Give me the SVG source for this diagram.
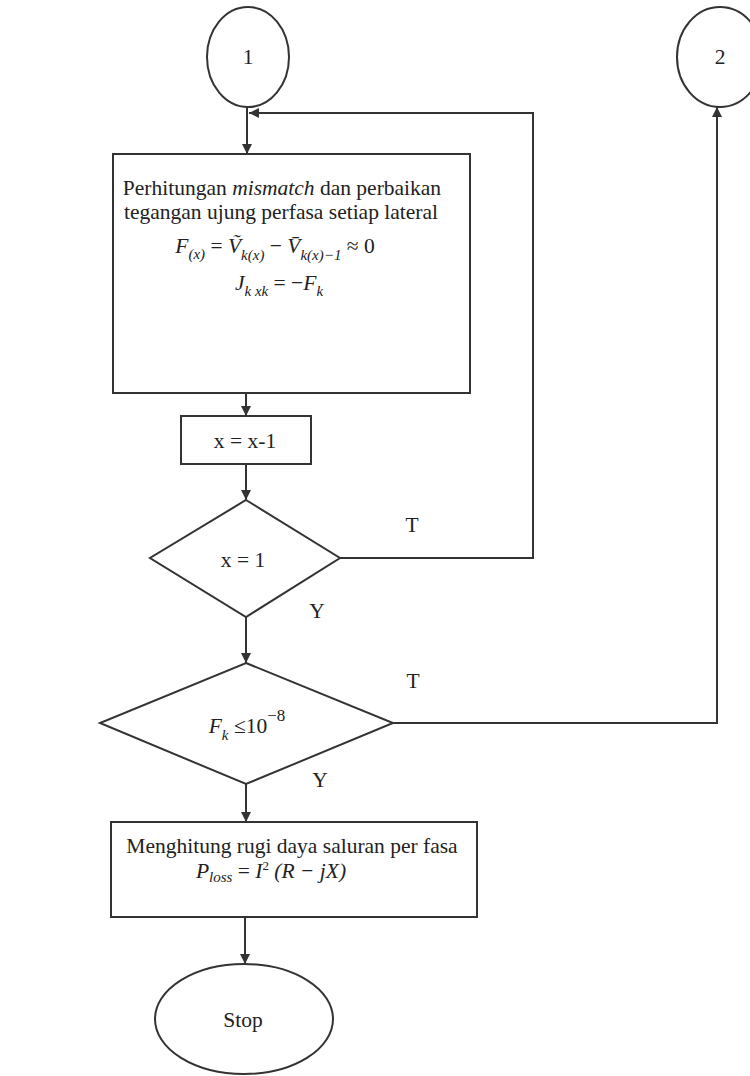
<svg xmlns="http://www.w3.org/2000/svg" width="750" height="1076" viewBox="0 0 750 1076">
<style>
.shape{fill:#fff;stroke:#333;stroke-width:2}
.line{fill:none;stroke:#333;stroke-width:2}
text{font-family:"Liberation Serif","Times New Roman",serif;fill:#222;font-size:21.5px}
.c{text-anchor:middle}
.i{font-style:italic}
.sub{font-size:15px;font-style:italic}
</style>
<defs>
<marker id="ah" viewBox="0 0 10 10" refX="10" refY="5" markerWidth="10" markerHeight="10" markerUnits="userSpaceOnUse" orient="auto">
<path d="M0,0 L10,5 L0,10 z" fill="#333"/>
</marker>
</defs>
<rect width="750" height="1076" fill="#fff"/>
<g id="connectors">
<line class="line" x1="247" y1="107" x2="247" y2="154" marker-end="url(#ah)"/>
<polyline class="line" points="340,558 533,558 533,113 249,113" marker-end="url(#ah)"/>
<line class="line" x1="246" y1="393" x2="246" y2="416" marker-end="url(#ah)"/>
<line class="line" x1="246" y1="464" x2="246" y2="500" marker-end="url(#ah)"/>
<line class="line" x1="246" y1="617" x2="246" y2="663" marker-end="url(#ah)"/>
<polyline class="line" points="393,723 717,723 717,107" marker-end="url(#ah)"/>
<line class="line" x1="246" y1="784" x2="246" y2="822" marker-end="url(#ah)"/>
<line class="line" x1="245" y1="917" x2="245" y2="964" marker-end="url(#ah)"/>
<text x="412" y="532" class="c" font-size="22">T</text>
<text x="317" y="618" class="c" font-size="22">Y</text>
<text x="413" y="688" class="c" font-size="22">T</text>
<text x="320" y="787" class="c" font-size="22">Y</text>
</g>
<g id="c1">
<ellipse class="shape" cx="248" cy="57" rx="41" ry="50"/>
<text x="248" y="64" class="c" font-size="21">1</text>
</g>
<g id="c2">
<ellipse class="shape" cx="720" cy="57" rx="43" ry="50"/>
<text x="720" y="64" class="c" font-size="21">2</text>
</g>
<g id="box1">
<rect class="shape" x="113" y="154" width="357" height="239"/>
<text x="282" y="195" class="c">Perhitungan <tspan class="i">mismatch</tspan> dan perbaikan</text>
<text x="281" y="219" class="c">tegangan ujung perfasa setiap lateral</text>
<text x="275" y="253" class="c" font-size="27"><tspan class="i">F</tspan><tspan class="sub" dy="6">(x)</tspan><tspan dy="-6"> = </tspan><tspan class="i">Ṽ</tspan><tspan class="sub" dy="7">k(x)</tspan><tspan dy="-7"> − </tspan><tspan class="i">V̄</tspan><tspan class="sub" dy="7">k(x)−1</tspan><tspan dy="-7"> ≈ 0</tspan></text>
<text x="279" y="290" class="c" font-size="26"><tspan class="i">J</tspan><tspan class="sub" dy="6">k xk</tspan><tspan dy="-6"> = −</tspan><tspan class="i">F</tspan><tspan class="sub" dy="6">k</tspan></text>
</g>
<g id="box2">
<rect class="shape" x="181" y="416" width="130" height="48"/>
<text x="245" y="448" class="c" font-size="24">x = x-1</text>
</g>
<g id="d1">
<polygon class="shape" points="246,500 340,558 246,617 150,558"/>
<text x="243" y="567" class="c" font-size="23">x = 1</text>
</g>
<g id="d2">
<polygon class="shape" points="246,663 393,723 246,784 100,723"/>
<text x="247" y="733" class="c" font-size="30"><tspan class="i">F</tspan><tspan class="sub" font-size="17" dy="7">k</tspan><tspan dy="-7"> ≤10</tspan><tspan font-size="17" dy="-12">−8</tspan></text>
</g>
<g id="box3">
<rect class="shape" x="111" y="822" width="366" height="95"/>
<text x="292" y="853" class="c" font-size="22">Menghitung rugi daya saluran per fasa</text>
<text x="271" y="878" class="c" font-size="21"><tspan class="i">P</tspan><tspan class="sub" dy="4">loss</tspan><tspan dy="-4"> = </tspan><tspan class="i">I</tspan><tspan font-size="13" dy="-8">2</tspan><tspan class="i" dy="8"> (R − jX)</tspan></text>
</g>
<g id="stop">
<ellipse class="shape" cx="244" cy="1019" rx="89" ry="55"/>
<text x="243" y="1027" class="c" font-size="25">Stop</text>
</g>
</svg>
